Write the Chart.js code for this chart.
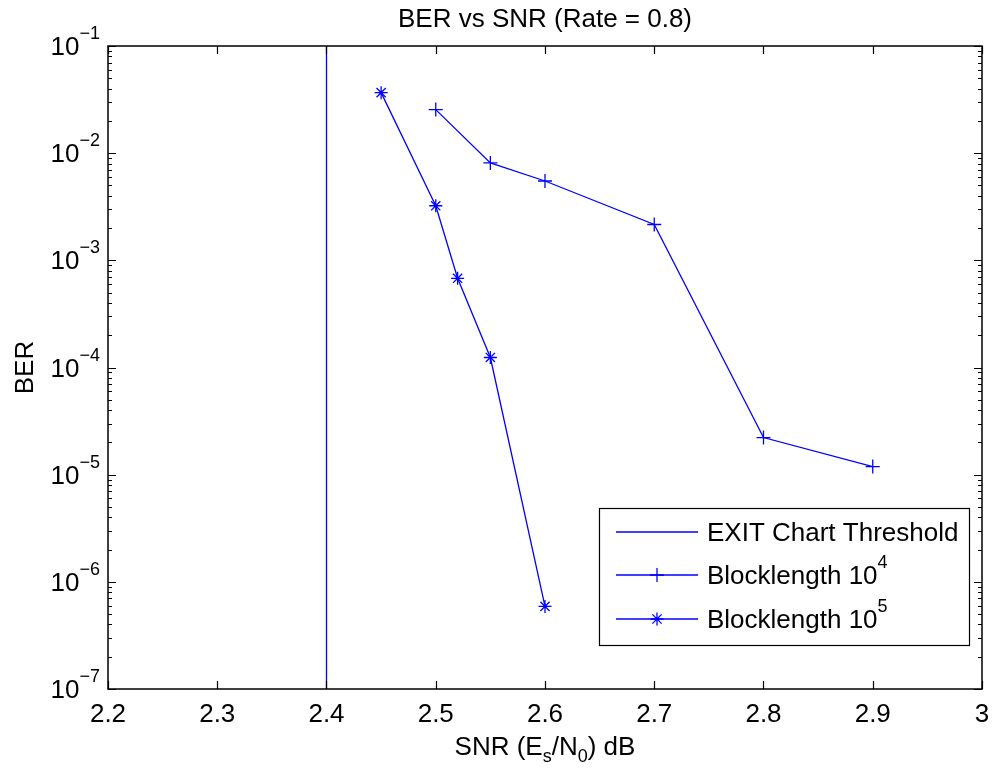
<!DOCTYPE html>
<html><head><meta charset="utf-8">
<script src="https://cdn.jsdelivr.net/npm/chart.js@4.4.0/dist/chart.umd.min.js"></script>
<style>html,body{margin:0;padding:0;background:#fff;} #wrap{width:994px;height:769px;}</style>
</head><body><div id="wrap"><canvas id="c" width="994" height="769"></canvas></div>
<script>
// ---- data ----
const snr10k = [2.5, 2.55, 2.6, 2.7, 2.8, 2.9];
const ber10k = [0.0255, 0.0081, 0.0055, 0.00216, 2.22e-5, 1.19e-5];
const snr100k = [2.45, 2.5, 2.52, 2.55, 2.6];
const ber100k = [0.0367, 0.00323, 6.8e-4, 1.24e-4, 5.9e-7];
const thresholdSnr = [2.4, 2.4];
const thresholdBer = [1e-7, 1e-1];
const xTicks = [2.2, 2.3, 2.4, 2.5, 2.6, 2.7, 2.8, 2.9, 3.0];
const xTickLabels = ['2.2', '2.3', '2.4', '2.5', '2.6', '2.7', '2.8', '2.9', '3'];
const yExponents = [-1, -2, -3, -4, -5, -6, -7];
const legendLabels = ['EXIT Chart Threshold', 'Blocklength 10', 'Blocklength 10'];
const legendSups = ['', '4', '5'];
const legendMarkers = [false, 'cross', 'star'];
const titleText = 'BER vs SNR (Rate = 0.8)';
const yTitle = 'BER';

const BLUE = '#0000ff';
const FONT = '"Liberation Sans", Arial, Helvetica, sans-serif';
const zip = (xs, ys) => xs.map((x, i) => ({x: x, y: ys[i]}));

function drawMarker(ctx, style, x, y, r) {
  ctx.beginPath();
  ctx.moveTo(x - r, y); ctx.lineTo(x + r, y);
  ctx.moveTo(x, y - r); ctx.lineTo(x, y + r);
  if (style === 'star') {
    const d = r * 0.7071;
    ctx.moveTo(x - d, y - d); ctx.lineTo(x + d, y + d);
    ctx.moveTo(x - d, y + d); ctx.lineTo(x + d, y - d);
  }
  ctx.stroke();
}

const decor = {
  id: 'decor',
  afterDraw(chart) {
    const ctx = chart.ctx;
    const a = chart.chartArea;
    const xs = chart.scales.x, ys = chart.scales.y;
    ctx.save();
    ctx.strokeStyle = '#000';
    ctx.fillStyle = '#000';
    ctx.lineWidth = 1.5;
    // box
    ctx.strokeRect(a.left, a.top, a.right - a.left, a.bottom - a.top);
    // x ticks
    ctx.lineWidth = 1.2;
    ctx.beginPath();
    xTicks.forEach(v => {
      const px = Math.round(xs.getPixelForValue(v)) + 0.5;
      ctx.moveTo(px, a.bottom); ctx.lineTo(px, a.bottom - 8);
      ctx.moveTo(px, a.top); ctx.lineTo(px, a.top + 8);
    });
    // y ticks (major + minor)
    yExponents.forEach(e => {
      for (let m = 1; m <= 9; m++) {
        const v = m * Math.pow(10, e);
        if (v > 0.1 + 1e-12 || v < 1e-7 - 1e-20) continue;
        const py = Math.round(ys.getPixelForValue(v)) + 0.5;
        const len = m === 1 ? 8 : 4;
        ctx.moveTo(a.left, py); ctx.lineTo(a.left + len, py);
        ctx.moveTo(a.right, py); ctx.lineTo(a.right - len, py);
      }
    });
    ctx.stroke();
    // x tick labels
    ctx.font = '26px ' + FONT;
    ctx.textAlign = 'center';
    ctx.textBaseline = 'alphabetic';
    xTicks.forEach((v, i) => {
      ctx.fillText(xTickLabels[i], xs.getPixelForValue(v), a.bottom + 33);
    });
    // y tick labels 10^e
    yExponents.forEach(e => {
      const py = ys.getPixelForValue(Math.pow(10, e));
      const sup = '\u2212' + Math.abs(e);
      ctx.font = '18px ' + FONT;
      const sw = ctx.measureText(sup).width;
      ctx.textAlign = 'left';
      ctx.fillText(sup, a.left - 8 - sw, py - 7);
      ctx.font = '26px ' + FONT;
      ctx.textAlign = 'right';
      ctx.fillText('10', a.left - 8 - sw, py + 9);
    });
    // title
    ctx.font = '26px ' + FONT;
    ctx.textAlign = 'center';
    ctx.fillText(titleText, (a.left + a.right) / 2, 27);
    // x axis title with subscripts
    const parts = [['SNR (E', 0], ['s', 1], ['/N', 0], ['0', 1], [') dB', 0]];
    let total = 0;
    parts.forEach(p => { ctx.font = (p[1] ? '18px ' : '26px ') + FONT; p.push(ctx.measureText(p[0]).width); total += p[2]; });
    let cx = (a.left + a.right) / 2 - total / 2;
    ctx.textAlign = 'left';
    parts.forEach(p => {
      ctx.font = (p[1] ? '18px ' : '26px ') + FONT;
      ctx.fillText(p[0], cx, p[1] ? 762 : 755);
      cx += p[2];
    });
    // y axis title
    ctx.save();
    ctx.translate(33, (a.top + a.bottom) / 2);
    ctx.rotate(-Math.PI / 2);
    ctx.font = '26px ' + FONT;
    ctx.textAlign = 'center';
    ctx.textBaseline = 'alphabetic';
    ctx.fillText(yTitle, 0, 0);
    ctx.restore();
    // legend
    const lx = 599, ly = 508, lw = 370, lh = 137;
    ctx.fillStyle = '#fff';
    ctx.fillRect(lx, ly, lw, lh);
    ctx.strokeStyle = '#000';
    ctx.lineWidth = 1.2;
    ctx.strokeRect(lx + 0.5, ly + 0.5, lw, lh);
    const rows = [532, 575, 619];
    legendLabels.forEach((lab, i) => {
      const ry = rows[i];
      ctx.strokeStyle = BLUE;
      ctx.lineWidth = 1.3;
      ctx.beginPath(); ctx.moveTo(616, ry); ctx.lineTo(698, ry); ctx.stroke();
      if (legendMarkers[i]) drawMarker(ctx, legendMarkers[i], 657, ry, legendMarkers[i] === 'cross' ? 7 : 6.5);
      ctx.fillStyle = '#000';
      ctx.font = '26px ' + FONT;
      ctx.textAlign = 'left';
      ctx.fillText(lab, 707, ry + 9);
      if (legendSups[i]) {
        const w = ctx.measureText(lab).width;
        ctx.font = '18px ' + FONT;
        ctx.fillText(legendSups[i], 707 + w, ry - 7);
      }
    });
    ctx.restore();
  }
};

new Chart(document.getElementById('c'), {
  type: 'line',
  data: {
    datasets: [
      { label: legendLabels[0], data: zip(thresholdSnr, thresholdBer), borderColor: BLUE, borderWidth: 1.3, pointRadius: 0, fill: false },
      { label: legendLabels[1] + legendSups[1], data: zip(snr10k, ber10k), borderColor: BLUE, borderWidth: 1.3,
        pointStyle: 'cross', pointRadius: 7, pointBorderColor: BLUE, pointBorderWidth: 1.3, pointBackgroundColor: BLUE, fill: false },
      { label: legendLabels[2] + legendSups[2], data: zip(snr100k, ber100k), borderColor: BLUE, borderWidth: 1.3,
        pointStyle: 'star', pointRadius: 6.5, pointBorderColor: BLUE, pointBorderWidth: 1.3, pointBackgroundColor: BLUE, fill: false }
    ]
  },
  options: {
    responsive: false,
    animation: false,
    events: [],
    layout: { padding: { left: 108, top: 46, right: 12, bottom: 80 } },
    plugins: { legend: { display: false }, tooltip: { enabled: false }, title: { display: false } },
    scales: {
      x: { type: 'linear', min: 2.2, max: 3, display: false },
      y: { type: 'logarithmic', min: 1e-7, max: 1e-1, display: false }
    }
  },
  plugins: [decor]
});
</script>
</body></html>
